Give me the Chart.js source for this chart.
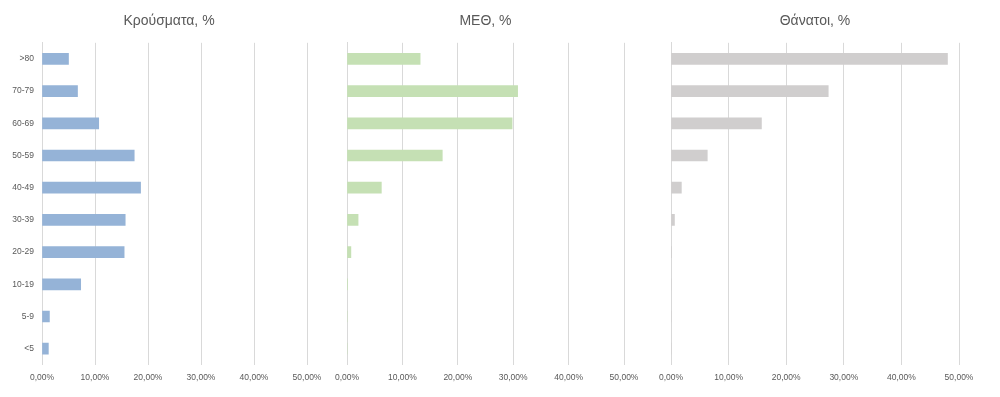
<!DOCTYPE html>
<html>
<head>
<meta charset="utf-8">
<script src="https://cdn.jsdelivr.net/npm/chart.js@4/dist/chart.umd.min.js"></script>
<style>
  html, body { margin: 0; padding: 0; background: #ffffff; }
  #wrap { position: relative; width: 1000px; height: 397px; overflow: hidden; background: #fff; }
  .pane { position: absolute; top: 0; height: 397px; }
</style>
</head>
<body>
<div id="wrap">
  <div class="pane" id="p1" style="left:0px;width:338px;"><canvas id="c1"></canvas></div>
  <div class="pane" id="p2" style="left:326px;width:324px;"><canvas id="c2"></canvas></div>
  <div class="pane" id="p3" style="left:648px;width:352px;"><canvas id="c3"></canvas></div>
</div>
<script>
// ---- Data ----
const ageGroups = [">80", "70-79", "60-69", "50-59", "40-49", "30-39", "20-29", "10-19", "5-9", "<5"];
const casesPct  = [5.0, 6.7, 10.7, 17.4, 18.6, 15.7, 15.5, 7.3, 1.4, 1.2];
const icuPct    = [13.2, 30.8, 29.8, 17.2, 6.2, 2.0, 0.7, 0.1, 0, 0];
const deathsPct = [48.0, 27.3, 15.7, 6.3, 1.8, 0.6, 0.1, 0, 0, 0];
const xTicks    = [0, 10, 20, 30, 40, 50];
const titles    = ["Κρούσματα, %", "ΜΕΘ, %", "Θάνατοι, %"];

const TEXT = "#595959";
const GRID = "#d9d9d9";
const FONT = "'Liberation Sans', Arial, sans-serif";

function fmt(v) { return v.toFixed(2).replace(".", ",") + "%"; }

function makeChart(id, title, values, color, showY, padding, titleFull, rightGap) {
  const scales = {
    x: {
      min: 0, max: 50,
      afterBuildTicks: (s) => { s.ticks = xTicks.map(v => ({ value: v })); },
      grid: { color: GRID, lineWidth: 1, drawTicks: false },
      border: { display: false },
      ticks: {
        color: TEXT, padding: 8,
        font: { family: FONT, size: 8.5 },
        callback: (v) => fmt(v),
        maxRotation: 0
      }
    },
    y: {
      display: true,
      grid: { display: false, drawTicks: false },
      border: { display: true, color: GRID, width: 1 },
      ticks: {
        display: showY,
        color: TEXT, padding: 8,
        font: { family: FONT, size: 8.5 }
      },
      afterFit: (s) => { s.width = showY ? 42 : 0; }
    }
  };
  if (rightGap) {
    scales.gap = {
      type: "category",
      axis: "y",
      position: "right",
      display: true,
      grid: { display: false, drawTicks: false },
      border: { display: false },
      ticks: { display: false },
      afterFit: (s) => { s.width = rightGap; }
    };
  }
  return new Chart(document.getElementById(id), {
    type: "bar",
    data: {
      labels: ageGroups,
      datasets: [{
        data: values,
        backgroundColor: color,
        borderWidth: 0,
        barThickness: 11
      }]
    },
    options: {
      indexAxis: "y",
      responsive: true,
      maintainAspectRatio: false,
      animation: false,
      layout: { padding: padding },
      plugins: {
        legend: { display: false },
        tooltip: { enabled: false },
        title: {
          display: true,
          text: title,
          color: TEXT,
          fullSize: titleFull,
          font: { family: FONT, size: 14, weight: "normal", lineHeight: 1.2 },
          padding: { top: 13, bottom: 13 }
        }
      },
      scales: scales
    }
  });
}

makeChart("c1", titles[0], casesPct, "#95b3d7", true,
  { left: 0, right: 0, top: 0, bottom: 6 }, true, 31);
makeChart("c2", titles[1], icuPct, "#c5e0b4", false,
  { left: 21, right: 26, top: 0, bottom: 6 }, false, 0);
makeChart("c3", titles[2], deathsPct, "#d0cece", false,
  { left: 23, right: 41, top: 0, bottom: 6 }, false, 0);
</script>
</body>
</html>
